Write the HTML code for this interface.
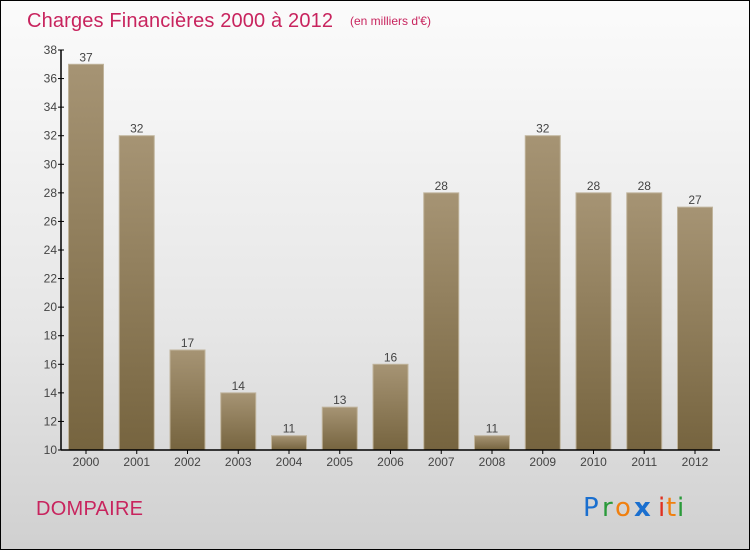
<!DOCTYPE html>
<html><head><meta charset="utf-8"><style>
html,body{margin:0;padding:0}
body{width:750px;height:550px;overflow:hidden;font-family:"Liberation Sans",sans-serif}
#bg{position:absolute;left:0;top:0;width:748px;height:548px;border:1px solid #000;background:linear-gradient(#fbfbfb,#e6e6e6 60%,#d0d0d0)}
</style></head><body>
<div id="bg"></div>
<svg width="750" height="550" style="position:absolute;left:0;top:0">
<defs><linearGradient id="bar" x1="0" y1="0" x2="0" y2="1"><stop offset="0" stop-color="#a69474"/><stop offset="1" stop-color="#76643f"/></linearGradient></defs>
<text x="27" y="27" font-size="20" fill="#c8245e" textLength="306">Charges Financières 2000 à 2012</text>
<text x="350" y="25" font-size="12" fill="#c8245e">(en milliers d'€)</text>
<text x="36" y="515" font-size="20" fill="#c8245e" textLength="107">DOMPAIRE</text>
<g id="logo" font-size="26" font-family="'DejaVu Sans',sans-serif">
<text x="583" y="516" fill="#1a6fcf">P</text><text x="602" y="516" fill="#2a9a3a">r</text><text x="615" y="516" fill="#f08010">o</text><text x="634" y="516" fill="#1a6fcf" font-weight="bold">x</text><text x="658" y="516" fill="#e03020">i</text><text x="666" y="516" fill="#f08010">t</text><text x="677" y="516" fill="#2a9a3a">i</text>
</g>
<g id="plot"></g>
</svg>
<script>
const categories=["2000","2001","2002","2003","2004","2005","2006","2007","2008","2009","2010","2011","2012"];
const values=[37,32,17,14,11,13,16,28,11,32,28,28,27];
const yTicks=[10,12,14,16,18,20,22,24,26,28,30,32,34,36,38];
const NS="http://www.w3.org/2000/svg";
const g=document.getElementById('plot');
const y=v=>450-(v-10)*400/28;
const x=i=>86+i*50.75;
function mk(t,a,txt){const e=document.createElementNS(NS,t);for(const k in a)e.setAttribute(k,a[k]);if(txt!=null)e.textContent=txt;g.appendChild(e);return e;}
values.forEach((v,i)=>{
 const r=mk('rect',{x:x(i)-17.5,y:y(v),width:35,height:450-y(v),fill:'url(#bar)',stroke:'#c0b49c','stroke-width':1});
 
 
 const t=mk('text',{x:x(i),y:y(v)-3,'font-size':12,fill:'#444','text-anchor':'middle'},String(v));
 
 
 const c=mk('text',{x:x(i),y:466,'font-size':12,fill:'#444','text-anchor':'middle'},categories[i]);
 
 
 mk('line',{x1:x(i),x2:x(i),y1:450,y2:454,stroke:'#000'});
});
yTicks.forEach(v=>{
 mk('line',{x1:58,x2:64,y1:y(v),y2:y(v),stroke:'#000'});
 const t=mk('text',{x:57,y:y(v)+4,'font-size':12,fill:'#444','text-anchor':'end'},String(v));
 
 
});
const ya=mk('line',{x1:61,x2:61,y1:50,y2:450,stroke:'#000','stroke-width':1.5});


const xa=mk('line',{x1:61,x2:720,y1:450,y2:450,stroke:'#000','stroke-width':1.5});


</script>
</body></html>
